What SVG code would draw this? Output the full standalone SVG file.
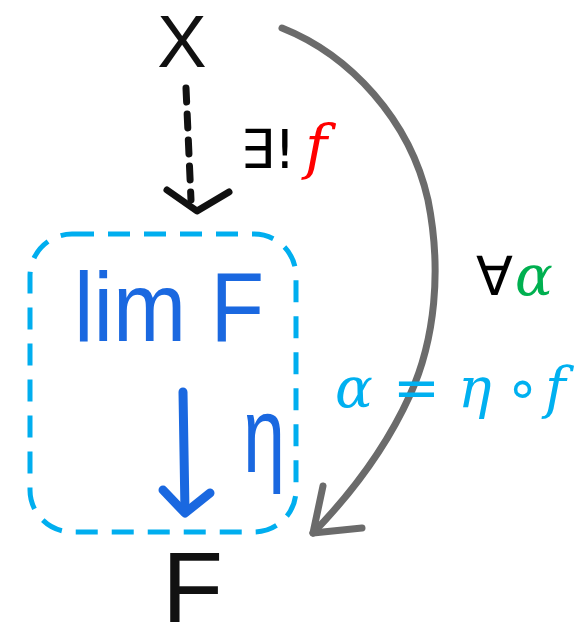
<svg xmlns="http://www.w3.org/2000/svg" width="588" height="643" viewBox="0 0 588 643">
<style>
.hand{font-family:"Liberation Sans",Arial,sans-serif;}
.ink{fill:#111;}
.blue{fill:#1a68e0;}
.math{font-family:"DejaVu Serif","Liberation Serif",serif;font-style:italic;}
.sym{font-family:"DejaVu Sans","Liberation Sans",sans-serif;}
.line{fill:none;stroke-linecap:round;stroke-linejoin:round;}
</style>
<rect width="588" height="643" fill="#fff"/>
<g id="connectors">
  <g id="edge-f">
    <path class="line" d="M186,88 L191,200" stroke="#111" stroke-width="7" stroke-dasharray="14,12"/>
    <path class="line" d="M167,190 L197,211 L229,192" stroke="#111" stroke-width="7"/>
  </g>
  <g id="edge-alpha">
    <path class="line" d="M282,28 C350,55 410,120 428,200 C442,270 435,340 410,395 C385,450 350,495 313,533" stroke="#6b6b6b" stroke-width="7"/>
    <path class="line" d="M323,486 L313,533 L362,528" stroke="#6b6b6b" stroke-width="7"/>
  </g>
  <g id="edge-eta">
    <path class="line" d="M183,392 L185,512" stroke="#1a68e0" stroke-width="9"/>
    <path class="line" d="M163,490 L185,513 L210,493" stroke="#1a68e0" stroke-width="9"/>
    <text class="hand blue" x="243" y="472" font-size="108" textLength="42" lengthAdjust="spacingAndGlyphs">η</text>
  </g>
</g>
<g id="node-X">
  <text class="hand ink" x="182" y="67" font-size="74" text-anchor="middle">X</text>
</g>
<g id="node-limF">
  <rect x="30" y="234" width="266" height="298" rx="42" fill="none" stroke="#00aeef" stroke-width="5" stroke-dasharray="22,14"/>
  <text class="hand blue" x="74" y="341" font-size="98" textLength="190" lengthAdjust="spacingAndGlyphs">lim F</text>
</g>
<g id="node-F">
  <text class="hand ink" x="162" y="622" font-size="100">F</text>
</g>
<g id="labels">
  <text x="240" y="168" font-size="54"><tspan class="sym" fill="#000">∃!</tspan></text>
  <text class="math" x="305" y="168" font-size="60" fill="#ff0000">f</text>
  <text x="476" y="295" font-size="54"><tspan class="sym" fill="#000">∀</tspan></text>
  <text class="math" x="515" y="295" font-size="56" fill="#00b050">α</text>
  <g font-size="56" fill="#00b0f0">
    <text class="math" x="335" y="407">α</text>
    <text class="sym" x="393" y="407">=</text>
    <text class="math" x="458" y="407">η</text>
    <text class="sym" x="505" y="407">∘</text>
    <text class="math" x="545" y="407">f</text>
  </g>
</g>
</svg>
